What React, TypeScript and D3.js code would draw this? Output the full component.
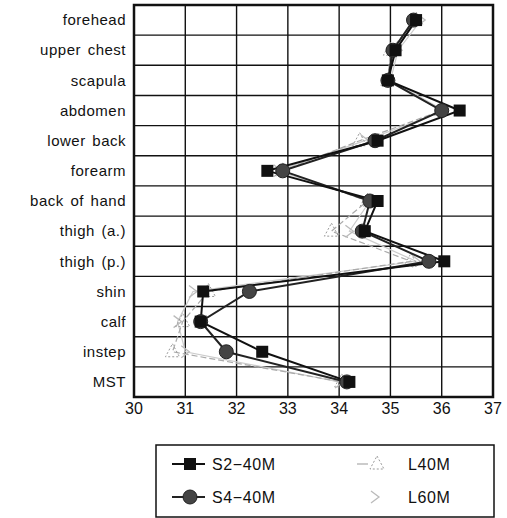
import * as d3 from 'd3';

const categories = [
  'forehead',
  'upper chest',
  'scapula',
  'abdomen',
  'lower back',
  'forearm',
  'back of hand',
  'thigh (a.)',
  'thigh (p.)',
  'shin',
  'calf',
  'instep',
  'MST',
];

const s2_40m = [35.5, 35.1, 34.95, 36.35, 34.75, 32.6, 34.75, 34.5, 36.05, 31.35, 31.3, 32.5, 34.2];
const s4_40m = [35.45, 35.05, 34.95, 36.0, 34.7, 32.9, 34.6, 34.45, 35.75, 32.25, 31.3, 31.8, 34.15];
const l40m = [35.5, 35.0, 34.95, 36.0, 34.4, 32.9, 34.55, 33.85, 35.4, 31.45, 30.95, 30.75, 34.05];
const l60m = [35.6, 35.15, 35.0, 36.05, 34.5, 32.8, 34.6, 34.2, 35.5, 31.15, 30.85, 31.0, 34.0];

const xTicks = [30, 31, 32, 33, 34, 35, 36, 37];

const width = 507;
const height = 518;
const marginLeft = 134;
const marginRight = 14;
const marginTop = 5;
const plotBottom = 397;
const font = 'Liberation Sans, Arial, sans-serif';

const x = d3.scaleLinear([30, 37], [marginLeft, width - marginRight]);
const y = d3.scaleBand(categories, [marginTop, plotBottom]);
const cy = (c: string) => (y(c) ?? 0) + y.bandwidth() / 2;

const line = d3
  .line<[number, string]>()
  .x((d) => x(d[0]))
  .y((d) => cy(d[1]));

const pts = (vals: number[]) => vals.map((v, i) => [v, categories[i]] as [number, string]);

function Square({ cx, cyy }: { cx: number; cyy: number }) {
  return <rect x={cx - 6} y={cyy - 6} width={12} height={12} fill='#111' />;
}

function Dot({ cx, cyy }: { cx: number; cyy: number }) {
  return <circle cx={cx} cy={cyy} r={7} fill='#444' stroke='#222' strokeWidth={1} />;
}

function Tri({ cx, cyy }: { cx: number; cyy: number }) {
  return (
    <path
      d={`M${cx},${cyy - 8} L${cx + 7},${cyy + 5} L${cx - 7},${cyy + 5} Z`}
      fill='none'
      stroke='#999'
      strokeWidth={1}
      strokeDasharray='2,2'
    />
  );
}

function Chev({ cx, cyy }: { cx: number; cyy: number }) {
  return (
    <path
      d={`M${cx - 4},${cyy - 6} L${cx + 4},${cyy} L${cx - 4},${cyy + 6}`}
      fill='none'
      stroke='#bbb'
      strokeWidth={1.3}
    />
  );
}

export default function App() {
  return (
    <svg
      width={width}
      height={height}
      style={{ position: 'absolute', left: 0, top: 0, background: '#fff' }}
      fontFamily={font}>
      {/* grid */}
      {categories.slice(1).map((c) => (
        <line
          key={c}
          x1={marginLeft}
          x2={width - marginRight}
          y1={y(c)}
          y2={y(c)}
          stroke='#111'
          strokeWidth={1.4}
        />
      ))}
      {xTicks.slice(1, -1).map((t) => (
        <line key={t} x1={x(t)} x2={x(t)} y1={marginTop} y2={plotBottom} stroke='#111' strokeWidth={1.4} />
      ))}

      {/* faint series */}
      <path d={line(pts(l60m)) ?? ''} fill='none' stroke='#ccc' strokeWidth={1.2} />
      <path d={line(pts(l40m)) ?? ''} fill='none' stroke='#aaa' strokeWidth={1.2} strokeDasharray='6,3' />
      {pts(l60m).map((d, i) => (
        <Chev key={i} cx={x(d[0])} cyy={cy(d[1])} />
      ))}
      {pts(l40m).map((d, i) => (
        <Tri key={i} cx={x(d[0])} cyy={cy(d[1])} />
      ))}

      {/* dark series */}
      <path d={line(pts(s4_40m)) ?? ''} fill='none' stroke='#222' strokeWidth={2} />
      <path d={line(pts(s2_40m)) ?? ''} fill='none' stroke='#111' strokeWidth={2} />
      {pts(s4_40m).map((d, i) => (
        <Dot key={i} cx={x(d[0])} cyy={cy(d[1])} />
      ))}
      {pts(s2_40m).map((d, i) => (
        <Square key={i} cx={x(d[0])} cyy={cy(d[1])} />
      ))}

      {/* frame */}
      <rect
        x={marginLeft}
        y={marginTop}
        width={width - marginRight - marginLeft}
        height={plotBottom - marginTop}
        fill='none'
        stroke='#111'
        strokeWidth={2.5}
      />

      {/* category labels */}
      {categories.map((c) => (
        <text
          key={c}
          x={126}
          y={cy(c)}
          dy='0.35em'
          textAnchor='end'
          fontSize={15}
          letterSpacing={0.5}
          wordSpacing={2}
          fill='#111'>
          {c}
        </text>
      ))}

      {/* x tick labels */}
      {xTicks.map((t) => (
        <text key={t} x={x(t)} y={414} textAnchor='middle' fontSize={16} fill='#111'>
          {t}
        </text>
      ))}

      {/* legend */}
      <g fontSize={16} letterSpacing={0.6} fill='#111'>
        <rect x={156} y={445} width={338} height={72} fill='none' stroke='#111' strokeWidth={1.5} />
        <line x1={172} x2={205} y1={464} y2={464} stroke='#111' strokeWidth={2} />
        <Square cx={190} cyy={464} />
        <text x={212} y={464} dy='0.35em'>
          S2−40M
        </text>
        <line x1={172} x2={205} y1={497} y2={497} stroke='#222' strokeWidth={2} />
        <Dot cx={190} cyy={497} />
        <text x={212} y={497} dy='0.35em'>
          S4−40M
        </text>
        <line x1={357} x2={368} y1={464} y2={464} stroke='#aaa' strokeWidth={1.2} />
        <Tri cx={377} cyy={464} />
        <text x={408} y={464} dy='0.35em'>
          L40M
        </text>
        <Chev cx={375} cyy={497} />
        <text x={408} y={497} dy='0.35em'>
          L60M
        </text>
      </g>
    </svg>
  );
}
